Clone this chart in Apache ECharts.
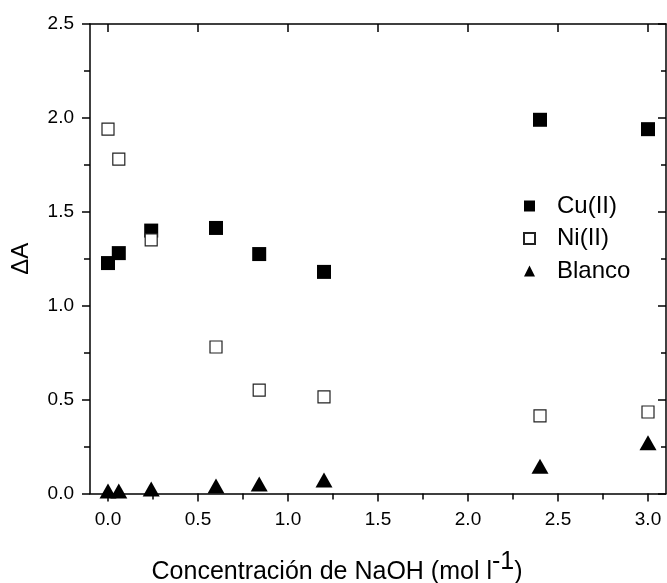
<!DOCTYPE html>
<html>
<head>
<meta charset="utf-8">
<script src="https://cdn.jsdelivr.net/npm/echarts@6/dist/echarts.min.js"></script>
<style>html,body{margin:0;padding:0;background:#fff}#c{width:667px;height:583px}</style>
</head>
<body>
<div id="c"></div>
<script>
// ---- data ----
var concentrations = [0, 0.06, 0.24, 0.6, 0.84, 1.2, 2.4, 3.0];
var cuValues = [1.227, 1.28, 1.40, 1.414, 1.275, 1.18, 1.99, 1.94];
var niValues = [1.94, 1.78, 1.35, 0.78, 0.55, 0.515, 0.413, 0.434];
var blancoValues = [0.013, 0.013, 0.024, 0.04, 0.05, 0.072, 0.145, 0.27];
var xTickValues = [0, 0.5, 1.0, 1.5, 2.0, 2.5, 3.0];
var xMinorTickValues = [0.25, 0.75, 1.25, 1.75, 2.25, 2.75];
var seriesNames = ['Cu(II)', 'Ni(II)', 'Blanco'];

function pairs(vals) { return concentrations.map(function (x, i) { return [x, vals[i]]; }); }

var FONT = '"Liberation Sans", Arial, sans-serif';
var XMIN = -0.1, XMAX = 3.1;
var axisLine = { show: true, onZero: false, lineStyle: { color: '#000', width: 1.5 } };

function xAxisDef(pos, values, len, inside, labels, line) {
  return {
    type: 'value', position: pos, min: XMIN, max: XMAX, gridIndex: 0,
    axisLine: line ? axisLine : { show: false },
    splitLine: { show: false },
    axisTick: { show: true, inside: inside, length: len, customValues: values, lineStyle: { color: '#000', width: 1.5 } },
    axisLabel: labels ? { show: true, customValues: values, margin: 17, fontSize: 19, fontFamily: FONT, color: '#000',
      formatter: function (v) { return v.toFixed(1); } } : { show: false }
  };
}

var chart = echarts.init(document.getElementById('c'), null, { renderer: 'canvas' });
chart.setOption({
  animation: false,
  backgroundColor: '#fff',
  grid: { left: 90, right: 1, top: 24, bottom: 89.5, containLabel: false, outerBoundsMode: 'none' },
  legend: {
    orient: 'vertical', left: 518, top: 189,
    itemWidth: 11, itemHeight: 11, itemGap: 8.5,
    textStyle: { fontSize: 24, fontFamily: FONT, color: '#000', lineHeight: 24, padding: [0, 0, 0, 17] },
    data: [
      { name: seriesNames[0], icon: 'rect' },
      { name: seriesNames[1], icon: 'rect' },
      { name: seriesNames[2], icon: 'triangle' }
    ]
  },
  xAxis: [
    Object.assign(xAxisDef('bottom', xTickValues, 8, false, true, true), {
      name: '{a|Concentración de NaOH (mol l}{s|-1}{a|)}',
      nameLocation: 'middle', nameGap: 61,
      nameTextStyle: {
        padding: [0, 82, 0, 0],
        rich: {
          a: { fontSize: 25, fontFamily: FONT, color: '#000', lineHeight: 30, verticalAlign: 'bottom' },
          s: { fontSize: 25, fontFamily: FONT, color: '#000', lineHeight: 30, verticalAlign: 'bottom', padding: [0, 0, 10, 0] }
        }
      }
    }),
    xAxisDef('bottom', xMinorTickValues, 6, false, false, false),
    xAxisDef('top', xTickValues, 8, true, false, true),
    xAxisDef('top', xMinorTickValues, 5, true, false, false)
  ],
  yAxis: [
    {
      type: 'value', position: 'left', min: 0, max: 2.5, interval: 0.5,
      axisLine: axisLine, splitLine: { show: false },
      axisTick: { show: true, inside: false, length: 8, lineStyle: { color: '#000', width: 1.5 } },
      minorTick: { show: true, splitNumber: 2, length: 6, lineStyle: { color: '#000', width: 1.5 } },
      axisLabel: { margin: 16, fontSize: 19, fontFamily: FONT, color: '#000', formatter: function (v) { return v.toFixed(1); } },
      name: 'ΔA', nameLocation: 'middle', nameGap: 57, nameRotate: 90,
      nameTextStyle: { fontSize: 24, fontFamily: FONT, color: '#000' }
    },
    {
      type: 'value', position: 'right', min: 0, max: 2.5, interval: 0.5,
      axisLine: axisLine, splitLine: { show: false },
      axisTick: { show: true, inside: true, length: 8, lineStyle: { color: '#000', width: 1.5 } },
      minorTick: { show: true, splitNumber: 2, length: 5, lineStyle: { color: '#000', width: 1.5 } },
      axisLabel: { show: false }
    }
  ],
  series: [
    { name: seriesNames[0], type: 'scatter', xAxisIndex: 0, yAxisIndex: 0, data: pairs(cuValues), symbol: 'rect', symbolSize: 14,
      itemStyle: { color: '#000', opacity: 1 }, clip: true },
    { name: seriesNames[1], type: 'scatter', xAxisIndex: 0, yAxisIndex: 0, data: pairs(niValues), symbol: 'rect', symbolSize: 12,
      itemStyle: { color: '#fff', borderColor: '#222', borderWidth: 1.2, opacity: 1 }, clip: true },
    { name: seriesNames[2], type: 'scatter', xAxisIndex: 0, yAxisIndex: 0, data: pairs(blancoValues), symbol: 'triangle', symbolSize: [17, 15],
      itemStyle: { color: '#000', opacity: 1 }, clip: true }
  ]
});
</script>
</body>
</html>
